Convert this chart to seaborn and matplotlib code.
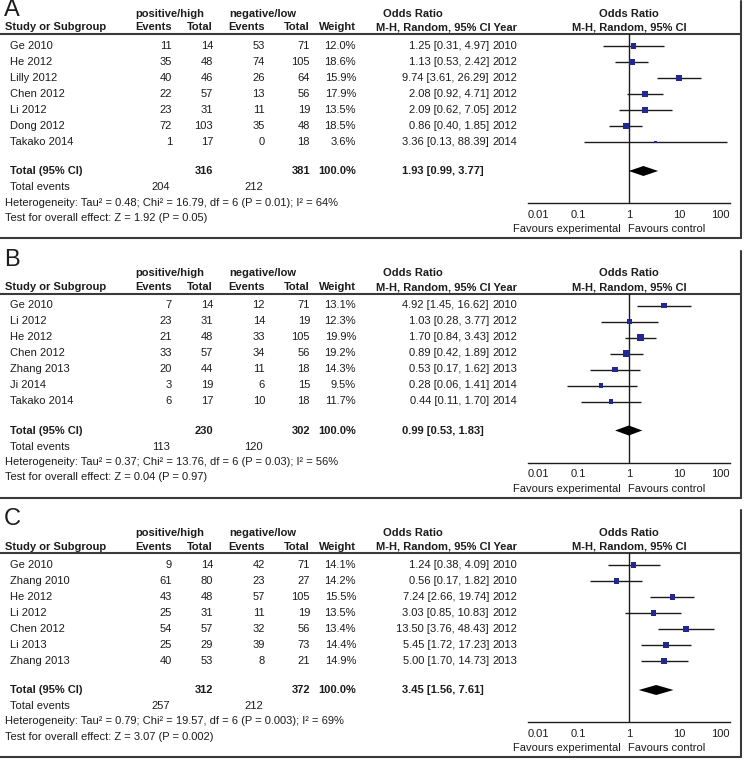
import numpy as np
import pandas as pd
import matplotlib
matplotlib.use("Agg")
import matplotlib.pyplot as plt
from matplotlib.ticker import NullLocator
import seaborn as sns

# ---- panel A ----
a_study = ["Ge 2010", "He 2012", "Lilly 2012", "Chen 2012", "Li 2012", "Dong 2012", "Takako 2014"]
a_pos_ev = [11, 35, 40, 22, 23, 72, 1]
a_pos_n = [14, 48, 46, 57, 31, 103, 17]
a_neg_ev = [53, 74, 26, 13, 11, 35, 0]
a_neg_n = [71, 105, 64, 56, 19, 48, 18]
a_weight = [12.0, 18.6, 15.9, 17.9, 13.5, 18.5, 3.6]
a_or = [1.25, 1.13, 9.74, 2.08, 2.09, 0.86, 3.36]
a_lo = [0.31, 0.53, 3.61, 0.92, 0.62, 0.40, 0.13]
a_hi = [4.97, 2.42, 26.29, 4.71, 7.05, 1.85, 88.39]
a_year = [2010, 2012, 2012, 2012, 2012, 2012, 2014]
a_total = [316, 381, 204, 212]           # pos total, neg total, pos events, neg events
a_pooled = [1.93, 0.99, 3.77]
a_het = "Heterogeneity: Tau² = 0.48; Chi² = 16.79, df = 6 (P = 0.01); I² = 64%"
a_test = "Test for overall effect: Z = 1.92 (P = 0.05)"

# ---- panel B ----
b_study = ["Ge 2010", "Li 2012", "He 2012", "Chen 2012", "Zhang 2013", "Ji 2014", "Takako 2014"]
b_pos_ev = [7, 23, 21, 33, 20, 3, 6]
b_pos_n = [14, 31, 48, 57, 44, 19, 17]
b_neg_ev = [12, 14, 33, 34, 11, 6, 10]
b_neg_n = [71, 19, 105, 56, 18, 15, 18]
b_weight = [13.1, 12.3, 19.9, 19.2, 14.3, 9.5, 11.7]
b_or = [4.92, 1.03, 1.70, 0.89, 0.53, 0.28, 0.44]
b_lo = [1.45, 0.28, 0.84, 0.42, 0.17, 0.06, 0.11]
b_hi = [16.62, 3.77, 3.43, 1.89, 1.62, 1.41, 1.70]
b_year = [2010, 2012, 2012, 2012, 2013, 2014, 2014]
b_total = [230, 302, 113, 120]
b_pooled = [0.99, 0.53, 1.83]
b_het = "Heterogeneity: Tau² = 0.37; Chi² = 13.76, df = 6 (P = 0.03); I² = 56%"
b_test = "Test for overall effect: Z = 0.04 (P = 0.97)"

# ---- panel C ----
c_study = ["Ge 2010", "Zhang 2010", "He 2012", "Li 2012", "Chen 2012", "Li 2013", "Zhang 2013"]
c_pos_ev = [9, 61, 43, 25, 54, 25, 40]
c_pos_n = [14, 80, 48, 31, 57, 29, 53]
c_neg_ev = [42, 23, 57, 11, 32, 39, 8]
c_neg_n = [71, 27, 105, 19, 56, 73, 21]
c_weight = [14.1, 14.2, 15.5, 13.5, 13.4, 14.4, 14.9]
c_or = [1.24, 0.56, 7.24, 3.03, 13.50, 5.45, 5.00]
c_lo = [0.38, 0.17, 2.66, 0.85, 3.76, 1.72, 1.70]
c_hi = [4.09, 1.82, 19.74, 10.83, 48.43, 17.23, 14.73]
c_year = [2010, 2010, 2012, 2012, 2012, 2013, 2013]
c_total = [312, 372, 257, 212]
c_pooled = [3.45, 1.56, 7.61]
c_het = "Heterogeneity: Tau² = 0.79; Chi² = 19.57, df = 6 (P = 0.003); I² = 69%"
c_test = "Test for overall effect: Z = 3.07 (P = 0.002)"

ticks = [0.01, 0.1, 1, 10, 100]
tick_labels = ["0.01", "0.1", "1", "10", "100"]


def make_df(study, pe, pn, ne, nn, w, odds, lo, hi, yr):
    return pd.DataFrame({"study": study, "pos_ev": pe, "pos_n": pn, "neg_ev": ne,
                         "neg_n": nn, "weight": w, "odds": odds, "lo": lo, "hi": hi, "year": yr})


panels = [
    ("A", make_df(a_study, a_pos_ev, a_pos_n, a_neg_ev, a_neg_n, a_weight, a_or, a_lo, a_hi, a_year),
     a_total, a_pooled, a_het, a_test),
    ("B", make_df(b_study, b_pos_ev, b_pos_n, b_neg_ev, b_neg_n, b_weight, b_or, b_lo, b_hi, b_year),
     b_total, b_pooled, b_het, b_test),
    ("C", make_df(c_study, c_pos_ev, c_pos_n, c_neg_ev, c_neg_n, c_weight, c_or, c_lo, c_hi, c_year),
     c_total, c_pooled, c_het, c_test),
]

sns.set_style("white")
plt.rcParams["font.family"] = ["Liberation Sans", "DejaVu Sans"]
plt.rcParams["font.size"] = 8

W, H = 746, 762
INK = "#1c1c1c"
RULE = "#3a3a3a"
SQ = "#22288f"

fig = plt.figure(figsize=(W / 100, H / 100), dpi=100)
bg = fig.add_axes([0, 0, 1, 1])
bg.set_xlim(0, W)
bg.set_ylim(H, 0)
bg.axis("off")

# 컬럼 위치 (픽셀)
X_NAME, X_NOTE = 10, 5
X_PE, X_PN, X_NE, X_NN, X_W = 172, 213, 265, 310, 356
X_OR, X_YEAR = 489, 517
FX0, FX1 = 528, 730      # forest axis 0.01 -> 100
LETTER_TOP = [-1, 249, 508]


def txt(x, y, s, ha="left", bold=False, **kw):
    bg.text(x, y, s, ha=ha, va="center", color=INK,
            fontweight="bold" if bold else "normal", **kw)


for k, (letter, df, tot, pooled, het, test) in enumerate(panels):
    y0 = k * 259.5
    rows_y = y0 + 46 + 16 * np.arange(len(df))
    y_tot = y0 + 171
    y_rule = y0 + 34
    y_axis = y0 + 203

    # 헤더
    bg.text(4, LETTER_TOP[k], letter, fontsize=17, ha="left", va="top", color=INK)
    txt(170, y0 + 14, "positive/high", ha="center", bold=True)
    txt(263, y0 + 14, "negative/low", ha="center", bold=True)
    txt(413, y0 + 14, "Odds Ratio", ha="center", bold=True)
    txt(629, y0 + 14, "Odds Ratio", ha="center", bold=True)
    txt(X_NOTE, y0 + 27.5, "Study or Subgroup", bold=True)
    txt(X_PE, y0 + 27.5, "Events", ha="right", bold=True)
    txt(X_PN, y0 + 27.5, "Total", ha="right", bold=True)
    txt(X_NE, y0 + 27.5, "Events", ha="right", bold=True)
    txt(X_NN, y0 + 27.5, "Total", ha="right", bold=True)
    txt(X_W, y0 + 27.5, "Weight", ha="right", bold=True)
    txt(X_YEAR, y0 + 27.5, "M-H, Random, 95% CI Year", ha="right", bold=True)
    txt(629, y0 + 27.5, "M-H, Random, 95% CI", ha="center", bold=True)

    # 테두리
    bg.plot([0, 741], [y_rule, y_rule], color=RULE, lw=1.5)
    bg.plot([0, 741], [y0 + 238, y0 + 238], color=RULE, lw=1.5)
    bg.plot([741, 741], [LETTER_TOP[k] + 2, y0 + 238], color=RULE, lw=1.5)

    # 연구별 행
    for y, r in zip(rows_y, df.itertuples()):
        txt(X_NAME, y, r.study)
        txt(X_PE, y, str(r.pos_ev), ha="right")
        txt(X_PN, y, str(r.pos_n), ha="right")
        txt(X_NE, y, str(r.neg_ev), ha="right")
        txt(X_NN, y, str(r.neg_n), ha="right")
        txt(X_W, y, f"{r.weight:.1f}%", ha="right")
        txt(X_OR, y, f"{r.odds:.2f} [{r.lo:.2f}, {r.hi:.2f}]", ha="right")
        txt(X_YEAR, y, str(r.year), ha="right")

    # 합계
    txt(X_NAME, y_tot, "Total (95% CI)", bold=True)
    txt(X_PN, y_tot, str(tot[0]), ha="right", bold=True)
    txt(X_NN, y_tot, str(tot[1]), ha="right", bold=True)
    txt(X_W, y_tot, "100.0%", ha="right", bold=True)
    txt(X_OR - 5, y_tot, f"{pooled[0]:.2f} [{pooled[1]:.2f}, {pooled[2]:.2f}]", ha="right", bold=True)
    txt(X_NAME, y0 + 187, "Total events")
    txt(X_PE - 2, y0 + 187, str(tot[2]), ha="right")
    txt(X_NE - 2, y0 + 187, str(tot[3]), ha="right")
    txt(X_NOTE, y0 + 202.5, het)
    txt(X_NOTE, y0 + 218, test)

    # forest plot
    ax = fig.add_axes([FX0 / W, 1 - y_axis / H, (FX1 - FX0) / W, (y_axis - y_rule) / H])
    ax.set_xscale("log")
    ax.patch.set_alpha(0)
    fd = df.assign(y=rows_y)
    ax.hlines(fd["y"], fd["lo"], fd["hi"], color=INK, lw=1, zorder=2)
    wmin, wmax = fd["weight"].min(), fd["weight"].max()
    sns.scatterplot(data=fd, x="odds", y="y", size="weight", sizes=(wmin * 1.1, wmax * 1.1),
                    size_norm=(wmin, wmax), marker="s", color=SQ, linewidth=0,
                    legend=False, ax=ax, zorder=3)
    ax.fill([pooled[1], pooled[0], pooled[2], pooled[0]],
            [y_tot, y_tot - 5, y_tot, y_tot + 5], color="black", lw=0, zorder=3)
    ax.axvline(1, color=INK, lw=1, zorder=1)
    ax.set_xlim(0.01, 100)
    ax.set_ylim(y_axis, y_rule)
    ax.set_xticks(ticks)
    ax.set_xticklabels(tick_labels)
    ax.xaxis.set_minor_locator(NullLocator())
    labels = ax.get_xticklabels()
    labels[0].set_ha("left")
    labels[-1].set_ha("right")
    ax.set_yticks([])
    ax.set_xlabel("")
    ax.set_ylabel("")
    for s in ["top", "left", "right"]:
        ax.spines[s].set_visible(False)
    ax.spines["bottom"].set_color(INK)
    ax.spines["bottom"].set_linewidth(1)
    ax.tick_params(axis="x", direction="inout", length=6, width=1, pad=2,
                   labelsize=8, colors=INK)

    txt(621, y0 + 229, "Favours experimental", ha="right")
    txt(628, y0 + 229, "Favours control")

fig.savefig("out.png", dpi=100)
